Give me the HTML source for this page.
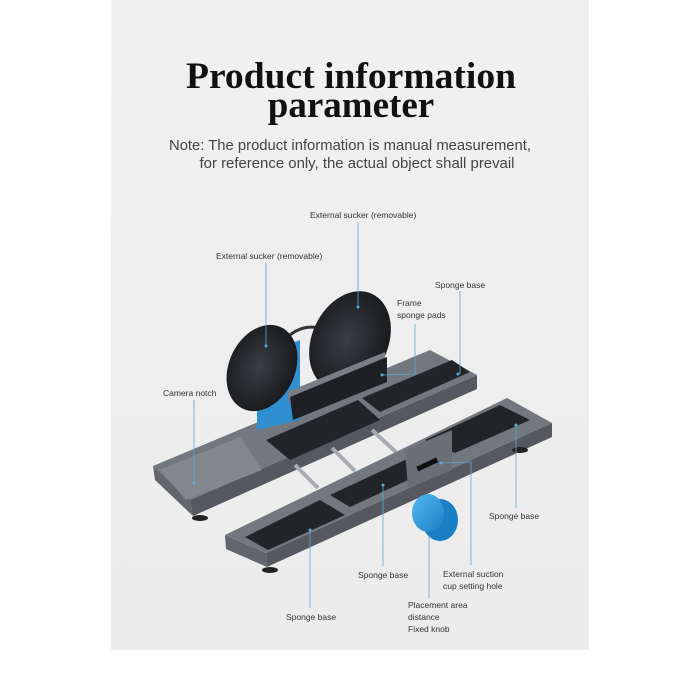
<!DOCTYPE html>
<html><head><meta charset="utf-8"><style>
html,body{margin:0;padding:0;background:#fff;}
svg{display:block}
</style></head><body>
<svg width="700" height="700" viewBox="0 0 700 700" xmlns="http://www.w3.org/2000/svg">
<defs>
<linearGradient id="bg" x1="0" y1="0" x2="0" y2="1"><stop offset="0" stop-color="#f0f0f0"/><stop offset="1" stop-color="#ececec"/></linearGradient>
<radialGradient id="cup" cx="0.45" cy="0.5" r="0.6"><stop offset="0" stop-color="#3a3d42"/><stop offset="1" stop-color="#15171a"/></radialGradient>
<linearGradient id="knob" x1="0" y1="0" x2="1" y2="1"><stop offset="0" stop-color="#55b8f0"/><stop offset="1" stop-color="#1a7fc4"/></linearGradient>
</defs>
<rect x="111" y="0" width="478" height="650" fill="url(#bg)"/>
<g font-family="Liberation Serif, serif" font-weight="bold" fill="#111" text-anchor="middle">
<text x="351" y="88" font-size="37" textLength="330" lengthAdjust="spacingAndGlyphs">Product information</text>
<text x="351" y="117" font-size="37">parameter</text>
</g>
<g font-family="Liberation Sans, sans-serif" fill="#444" font-size="14.5" text-anchor="middle">
<text x="350" y="150" textLength="362" lengthAdjust="spacingAndGlyphs">Note: The product information is manual measurement,</text>
<text x="357" y="168" textLength="315" lengthAdjust="spacingAndGlyphs">for reference only, the actual object shall prevail</text>
</g>

<!-- back bar -->
<polygon points="190,500 477,375 477,389 193,516" fill="#55595f"/>
<polygon points="153,466 190,500 193,516 155,480" fill="#62666c"/>
<polygon points="153,466 430,350 477,375 190,500" fill="#73777e"/>
<polygon points="160,470 240,437 262,470 186,500" fill="#83878e"/>
<polygon points="266,440 358,400 380,420 290,460" fill="#222428"/>
<polygon points="362,398 452,360 470,372 380,412" fill="#222428"/>
<!-- rods -->
<g stroke="#a8acb2" stroke-width="4">
<line x1="295" y1="465" x2="318" y2="488"/>
<line x1="332" y1="448" x2="355" y2="471"/>
<line x1="372" y1="430" x2="396" y2="452"/>
</g>
<!-- blue block -->
<polygon points="257,355 300,340 300,420 257,430" fill="#2f8fd0"/>
<path d="M280,345 Q300,320 325,330" stroke="#333" stroke-width="3" fill="none"/>
<!-- suction cups -->
<ellipse cx="262" cy="368" rx="33" ry="45" transform="rotate(25 262 368)" fill="url(#cup)"/>
<ellipse cx="350" cy="341" rx="38" ry="52" transform="rotate(25 350 341)" fill="url(#cup)"/>
<!-- frame plate -->
<polygon points="287,392 385,352 385,365 290,405" fill="#7a7e85"/>
<polygon points="290,397 387,357 387,382 293,420" fill="#1e2024"/>
<!-- front bar -->
<polygon points="266,553 552,423 552,437 267,567" fill="#55595f"/>
<polygon points="225,535 266,553 267,567 226,549" fill="#62666c"/>
<polygon points="225,535 507,398 552,423 266,553" fill="#73777e"/>
<polygon points="245,537 320,500 345,515 268,550" fill="#222428"/>
<polygon points="330,495 405,460 425,472 350,507" fill="#222428"/>
<polygon points="425,440 500,405 530,420 455,453" fill="#222428"/>
<polygon points="405,450 452,430 452,470 408,488" fill="#6a6e75"/>
<rect x="416" y="462" width="22" height="5" fill="#111" transform="rotate(-25 427 464)"/>
<!-- feet -->
<g fill="#222"><ellipse cx="200" cy="518" rx="8" ry="3"/><ellipse cx="270" cy="570" rx="8" ry="3"/><ellipse cx="520" cy="450" rx="8" ry="3"/></g>
<!-- knob -->
<ellipse cx="440" cy="520" rx="18" ry="21" fill="#1a7fc4"/>
<ellipse cx="428" cy="513" rx="16" ry="19" fill="url(#knob)"/>

<!-- leaders -->
<g stroke="#5aa9d6" stroke-width="0.8" fill="none">
<line x1="358" y1="222" x2="358" y2="307"/>
<line x1="266" y1="263" x2="266" y2="346"/>
<line x1="460" y1="291" x2="460" y2="374"/>
<polyline points="415,324 415,374 382,375"/>
<line x1="194" y1="400" x2="194" y2="483"/>
<line x1="516" y1="425" x2="516" y2="508"/>
<line x1="383" y1="485" x2="383" y2="566"/>
<polyline points="441,463 471,462 471,565"/>
<line x1="429" y1="535" x2="429" y2="598"/>
<line x1="310" y1="530" x2="310" y2="608"/>
</g>
<g fill="#5aa9d6"><circle cx="358" cy="307" r="1.5"/><circle cx="266" cy="346" r="1.5"/><circle cx="458" cy="374" r="1.5"/><circle cx="382" cy="375" r="1.5"/><circle cx="194" cy="483" r="1.5"/><circle cx="516" cy="425" r="1.5"/><circle cx="383" cy="485" r="1.5"/><circle cx="441" cy="463" r="1.5"/><circle cx="310" cy="530" r="1.5"/></g>
<g font-family="Liberation Sans, sans-serif" font-size="8.5" fill="#333">
<text x="310" y="218">External sucker (removable)</text>
<text x="216" y="259">External sucker (removable)</text>
<text x="435" y="288">Sponge base</text>
<text x="397" y="306">Frame</text>
<text x="397" y="318">sponge pads</text>
<text x="163" y="396">Camera notch</text>
<text x="489" y="519">Sponge base</text>
<text x="358" y="578">Sponge base</text>
<text x="443" y="577">External suction</text>
<text x="443" y="589">cup setting hole</text>
<text x="408" y="608">Placement area</text>
<text x="408" y="620">distance</text>
<text x="408" y="632">Fixed knob</text>
<text x="286" y="620">Sponge base</text>
</g>
</svg>
</body></html>
